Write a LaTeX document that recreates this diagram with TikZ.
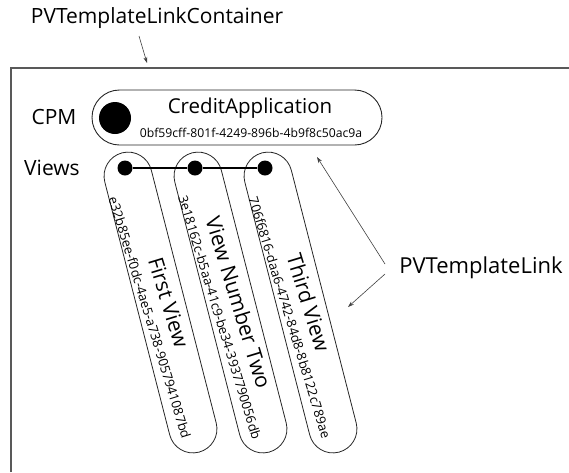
\documentclass[tikz,border=0pt]{standalone}
\usepackage{fontspec}
\setmainfont{Open Sans}
\usetikzlibrary{arrows.meta}
\begin{document}
\begin{tikzpicture}[x=1pt,y=-1pt,
  lbl/.style={font=\fontsize{21}{24}\selectfont, inner sep=0pt, text=black},
  bigname/.style={font=\fontsize{20.5}{24}\selectfont, inner sep=0pt, text=black},
  hashtxt/.style={font=\fontsize{12.2}{14}\selectfont, inner sep=0pt, text=black},
  vname/.style={font=\fontsize{21}{24}\selectfont, inner sep=0pt, text=black, rotate=-73},
  vhash/.style={font=\fontsize{13}{15}\selectfont, inner sep=0pt, text=black, rotate=-73},
  capsule/.style={draw=black!85, line width=0.8pt, rectangle, rounded corners=24pt,
    minimum width=309pt, minimum height=48pt, inner sep=0pt, rotate=-75.6},
  cpmpill/.style={draw=black!85, line width=0.9pt, rectangle, rounded corners=27.5pt,
    minimum width=290pt, minimum height=55pt, inner sep=0pt},
  dot/.style={circle, fill=black, inner sep=0pt, minimum size=15pt},
  bigdot/.style={circle, fill=black, inner sep=0pt, minimum size=32pt},
  arr/.style={draw=black!75, line width=0.6pt, -{Stealth[length=6pt,width=4pt]}},
  frame/.style={draw=black!65, line width=1.3pt}]
\useasboundingbox (0,0) rectangle (569,472);

% container frame
\draw[frame] (11,472) -- (11,68) -- (569,68);

% container label
\node[lbl] (contlbl) at (157,18) {PVTemplateLinkContainer};
\coordinate (contA) at (139,36);
\coordinate (contB) at (147,63);
\draw[arr] (contA) -- (contB);

% CPM row
\node[lbl] (cpm) at (54,117) {CPM};
\node[cpmpill] (cpmpill) at (237,117.5) {};
\node[bigdot] (cpmdot) at (115,118) {};
\node[bigname] (cpmname) at (250,108) {CreditApplication};
\node[hashtxt] (cpmhash) at (251,133) {0bf59cff-801f-4249-896b-4b9f8c50ac9a};

% Views
\node[lbl] (views) at (52,168) {Views};
\node[capsule] (cap1) at (160.5,302.5) {};
\node[capsule] (cap2) at (230.5,302.5) {};
\node[capsule] (cap3) at (300.5,302.5) {};

\node[vname] (n1) at (168.7,302.4) {First View};
\node[vhash] (h1) at (149.9,317.6) {e32b85ee-f0dc-4ae5-a738-9057941087bd};
\node[vname] (n2) at (238.7,302.4) {View Number Two};
\node[vhash] (h2) at (219.9,317.6) {3e18162c-b5aa-41c9-be34-3937790056db};
\node[vname] (n3) at (308.7,302.4) {Third View};
\node[vhash] (h3) at (289.9,317.6) {706f6816-daa6-4742-84d8-8b8122c789ae};

\node[dot] (d1) at (125,168) {};
\node[dot] (d2) at (195,168) {};
\node[dot] (d3) at (265,168) {};
\draw[line width=1.3pt] (d1) -- (d2) -- (d3);

% PVTemplateLink
\node[font=\fontsize{22}{26}\selectfont, inner sep=0pt, text=black] (link) at (481,268) {PVTemplateLink};
\coordinate (linkA) at (385,264);
\coordinate (linkB) at (385,274);
\coordinate (tgt1) at (317,157);
\coordinate (tgt2) at (348,307);
\draw[arr] (linkA) -- (tgt1);
\draw[arr] (linkB) -- (tgt2);
\end{tikzpicture}
\end{document}
